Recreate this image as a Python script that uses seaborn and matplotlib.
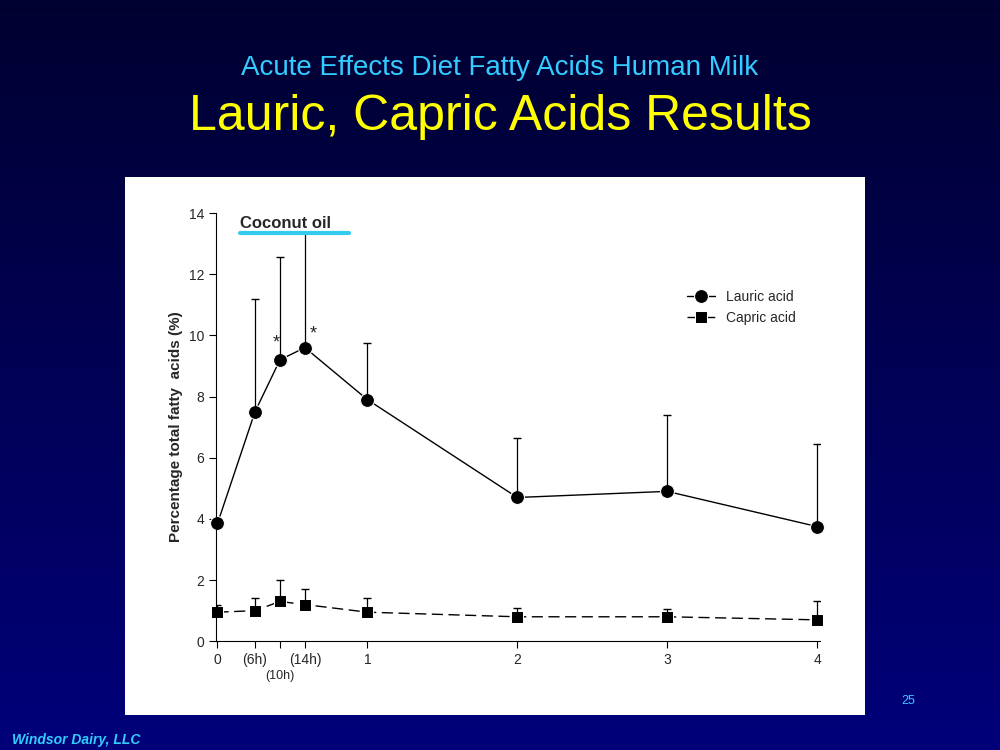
import numpy as np
import pandas as pd
import matplotlib
matplotlib.use("Agg")
import matplotlib.pyplot as plt
import seaborn as sns

# giorni dopo la dieta (6h, 10h, 14h espressi in giorni)
days = [0, 0.25, 0.417, 0.583, 1, 2, 3, 4]
lauric = [3.85, 7.5, 9.2, 9.6, 7.9, 4.7, 4.9, 3.75]
lauric_err = [0.0, 3.7, 3.35, 3.75, 1.85, 1.95, 2.5, 2.7]
capric = [0.95, 1.0, 1.3, 1.2, 0.95, 0.8, 0.8, 0.7]
capric_err = [0.25, 0.4, 0.7, 0.5, 0.45, 0.3, 0.25, 0.6]
x_ticks = [0, 0.25, 0.417, 0.583, 1, 2, 3, 4]
x_labels = ["0", "(6h)", "", "(14h)", "1", "2", "3", "4"]

df = pd.DataFrame({"day": days, "Lauric acid": lauric, "Capric acid": capric})

sns.set_style("white")
plt.rcParams['font.family'] = ['Liberation Sans', 'DejaVu Sans']

fig = plt.figure(figsize=(10, 7.5), dpi=100)

# sfondo sfumato blu
bg = fig.add_axes([0, 0, 1, 1])
grad = np.linspace(0, 1, 256).reshape(-1, 1)
cmap = matplotlib.colors.LinearSegmentedColormap.from_list("bg", ["#000030", "#00007a"])
bg.imshow(grad, aspect="auto", cmap=cmap, extent=[0, 1, 0, 1])
bg.set_axis_off()

fig.text(0.5, 0.909, "Acute Effects Diet Fatty Acids Human Milk", color="#33ccff",
         ha="center", va="center", fontsize=20)
fig.text(0.5, 0.844, "Lauric, Capric Acids Results", color="#ffff00",
         ha="center", va="center", fontsize=36)
fig.text(0.012, 0.008, "Windsor Dairy, LLC", color="#33ccff", fontsize=10,
         fontstyle="italic", fontweight="bold")
fig.text(0.908, 0.062, "25", color="#33ccff", fontsize=9, ha="center")

# pannello bianco
panel = fig.add_axes([0.125, 0.047, 0.74, 0.717])
panel.set_facecolor("white")
panel.set_xticks([]); panel.set_yticks([])
for s in panel.spines.values():
    s.set_visible(False)

ax = fig.add_axes([0.216, 0.145, 0.604, 0.571])
ax.set_facecolor("none")
sns.lineplot(data=df, x="day", y="Lauric acid", ax=ax, color="black", lw=1,
             marker="o", markersize=10, label="Lauric acid", clip_on=False)
sns.lineplot(data=df, x="day", y="Capric acid", ax=ax, color="black", lw=1,
             marker="s", markersize=8, linestyle=(0, (8, 4)), label="Capric acid",
             clip_on=False)
ax.errorbar(days, lauric, yerr=[np.zeros(len(days)), lauric_err], fmt="none",
            ecolor="black", elinewidth=0.9, capsize=3)
ax.errorbar(days, capric, yerr=[np.zeros(len(days)), capric_err], fmt="none",
            ecolor="black", elinewidth=0.9, capsize=3)
ax.text(0.39, 9.6, "*", fontsize=13, ha="center")
ax.text(0.64, 9.9, "*", fontsize=13, ha="center")
ax.text(0.15, 13.5, "Coconut oil", fontsize=12, fontweight="bold")
ax.plot([0.15, 0.88], [13.35, 13.35], color="#33ccee", lw=3, clip_on=False)

ax.set_xlim(-0.01, 4.02)
ax.set_ylim(0, 14)
ax.set_yticks(range(0, 15, 2))
ax.set_xticks(x_ticks)
ax.set_xticklabels(x_labels, fontsize=10)
ax.text(0.417, -1.25, "(10h)", fontsize=9, ha="center")
ax.tick_params(axis="both", direction="out", length=5, color="black", labelsize=10,
               bottom=True, left=True)
for s in ["top", "right"]:
    ax.spines[s].set_visible(False)
ax.spines["left"].set_color("black")
ax.spines["bottom"].set_color("black")
ax.set_xlabel("")
ax.set_ylabel("Percentage total fatty  acids (%)", fontsize=11, fontweight="bold")
ax.legend(loc="upper right", bbox_to_anchor=(0.98, 0.85), frameon=False, fontsize=10)

fig.savefig("out.png", dpi=100)
